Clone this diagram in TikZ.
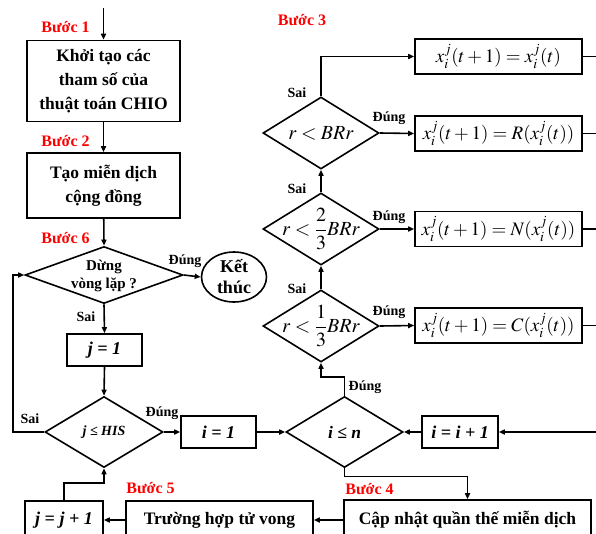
\documentclass[tikz,border=0pt]{standalone}
\usepackage{mathptmx}
\usepackage{fontspec}
\setmainfont{Liberation Serif}
\usetikzlibrary{shapes.geometric,arrows.meta}
\begin{document}
\begin{tikzpicture}[x=1pt,y=-1pt, line width=1.6pt,
  box/.style={draw, rectangle, inner sep=0pt, font=\fontsize{17.5}{24}\selectfont\bfseries, align=center},
  ibox/.style={draw, rectangle, inner sep=0pt, font=\fontsize{18}{20}\selectfont\bfseries\itshape},
  mbox/.style={draw, rectangle, inner sep=0pt, minimum width=167pt, minimum height=35pt, font=\fontsize{19}{23}\selectfont},
  dia/.style={draw, diamond, inner sep=0pt},
  rdia/.style={draw, diamond, inner sep=0pt, minimum width=116pt, minimum height=72pt},
  dtext/.style={font=\fontsize{20}{24}\selectfont, inner sep=0pt},
  lbl/.style={font=\fontsize{14}{16}\selectfont\bfseries, inner sep=0pt},
  stp/.style={text=red, font=\fontsize{16}{18}\selectfont\bfseries, inner sep=0pt},
  arr/.style={-{Triangle[length=6pt,width=5pt]}}]
\useasboundingbox (0,0) rectangle (596,533);
\clip (0,0) rectangle (596,533);

% left column
\coordinate (top) at (103.5,8);
\node[box, minimum width=153pt, minimum height=81pt] (b1) at (103.5,81) {Khởi tạo các\\tham số của\\thuật toán CHIO};
\node[box, minimum width=153pt, minimum height=65pt] (b2) at (103.5,185.5) {Tạo miễn dịch\\cộng đồng};
\node[dia, minimum width=158pt, minimum height=57pt] (d1) at (104,275) {};
\node[font=\fontsize{15}{18}\selectfont\bfseries, align=center, inner sep=0pt] (t1) at (104,276) {Dừng\\vòng lặp ?};
\node[draw, ellipse, minimum width=65pt, minimum height=50pt, inner sep=0pt, font=\fontsize{18}{21}\selectfont\bfseries, align=center] (end) at (234,277) {Kết\\thúc};
\node[ibox, minimum width=75pt, minimum height=32pt] (j1) at (104.5,350) {j = 1};
\node[dia, minimum width=118pt, minimum height=71pt] (d2) at (104,432) {};
\node[font=\fontsize{14}{16}\selectfont\bfseries\itshape, inner sep=0pt] (t2) at (104,432) {j ≤ HIS};
\node[ibox, minimum width=75pt, minimum height=32pt] (i1) at (218.5,432) {i = 1};
\node[dia, minimum width=117pt, minimum height=71pt] (d3) at (344.5,432) {};
\node[font=\fontsize{17.5}{20}\selectfont\bfseries\itshape, inner sep=0pt] (t3) at (344.5,432) {i ≤ n};
\node[ibox, minimum width=76pt, minimum height=32pt] (ii) at (460,432) {i = i + 1};
\coordinate (rin) at (596,432);

% bottom row
\node[box, minimum width=247pt, minimum height=40pt] (upd) at (467.5,520) {Cập nhật quần thế miễn dịch};
\node[box, minimum width=187pt, minimum height=38pt] (death) at (219.5,520) {Trường hợp tử vong};
\node[ibox, minimum width=78pt, minimum height=38pt] (jj) at (64,520) {j = j + 1};

% right column
\node[rdia] (dA) at (321,133) {};
\node[dtext] (tA) at (321,133) {$r<BRr$};
\node[rdia] (dB) at (321,229) {};
\node[dtext] (tB) at (321,229) {$r<\displaystyle\frac{2}{3}BRr$};
\node[rdia] (dC) at (321,326) {};
\node[dtext] (tC) at (321,326) {$r<\displaystyle\frac{1}{3}BRr$};
\node[mbox] (bX) at (498.5,56.5) {$x_i^j(t+1)=x_i^j(t)$};
\node[mbox] (bR) at (498.5,133.5) {$x_i^j(t+1)=R(x_i^j(t))$};
\node[mbox] (bN) at (498.5,229) {$x_i^j(t+1)=N(x_i^j(t))$};
\node[mbox] (bC) at (498.5,325.5) {$x_i^j(t+1)=C(x_i^j(t))$};
\coordinate (oX) at (596,56.5);
\coordinate (oR) at (596,133.5);
\coordinate (oN) at (596,229);
\coordinate (oC) at (596,325.5);
\coordinate (lp) at (13,432);

% step labels
\node[stp] (s1) at (65.5,27) {Bước 1};
\node[stp] (s2) at (65.5,141) {Bước 2};
\node[stp] (s6) at (65.5,238) {Bước 6};
\node[stp] (s3) at (302,20) {Bước 3};
\node[stp] (s4) at (369.5,489) {Bước 4};
\node[stp] (s5) at (150.5,488) {Bước 5};

% yes/no labels
\node[lbl] (l1) at (185,261) {Đúng};
\node[lbl] (l2) at (86,317) {Sai};
\node[lbl] (l3) at (30,419) {Sai};
\node[lbl] (l4) at (162,413) {Đúng};
\node[lbl] (l5) at (365,387) {Đúng};
\node[lbl] (l6) at (297,93) {Sai};
\node[lbl] (l7) at (297,189) {Sai};
\node[lbl] (l8) at (297,289) {Sai};
\node[lbl] (l9) at (389,118) {Đúng};
\node[lbl] (l10) at (389,217) {Đúng};
\node[lbl] (l11) at (389,312) {Đúng};

% connectors
\draw[arr] (top) -- (b1);
\draw[arr] (b1) -- (b2);
\draw[arr] (b2) -- (d1.north);
\draw[arr] (d1.east) -- (end.west);
\draw[arr] (d1.south) -- (j1.north);
\draw[arr] (j1.south) -- (d2.north);
\draw[arr] (d2.west) -- (lp) |- (d1.west);
\draw[arr] (d2.east) -- (i1.west);
\draw[arr] (i1.east) -- (d3.west);
\draw[arr] (ii.west) -- (d3.east);
\draw[arr] (rin) -- (ii.east);
\draw[arr] (d3.south) -- ++(0,8) -| (upd.north);
\draw[arr] (upd.west) -- (death.east);
\draw[arr] (death.west) -- (jj.east);
\draw[arr] (jj.north) -- ++(0,-17) -| (d2.south);
\draw[arr] (d3.north) -- ++(0,-18.5) -| (dC.south);
\draw[arr] (dC.north) -- (dB.south);
\draw[arr] (dB.north) -- (dA.south);
\draw[arr] (dA.north) |- (bX.west);
\draw[arr] (dA.east) -- (bR.west);
\draw[arr] (dB.east) -- (bN.west);
\draw[arr] (dC.east) -- (bC.west);
\draw (bX.east) -- (oX);
\draw (bR.east) -- (oR);
\draw (bN.east) -- (oN);
\draw (bC.east) -- (oC);
\end{tikzpicture}
\end{document}
